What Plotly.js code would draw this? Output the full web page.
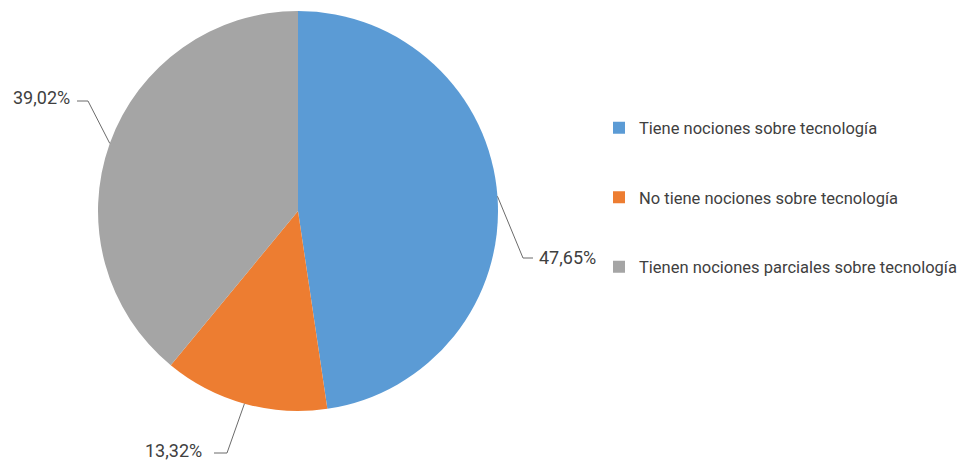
<!DOCTYPE html>
<html><head><meta charset="utf-8">
<script src="https://cdn.plot.ly/plotly-3.0.1.min.js"></script>
<style>html,body{margin:0;padding:0;background:#fff;}#chart{width:967px;height:460px;}</style>
</head><body><div id="chart"></div>
<script>
const categories = ['Tiene nociones sobre tecnología', 'No tiene nociones sobre tecnología', 'Tienen nociones parciales sobre tecnología'];
const values = [47.65, 13.32, 39.02];
const colors = ['#5B9BD5', '#ED7D31', '#A5A5A5'];
const valueLabels = values.map(v => v.toFixed(2).replace('.', ',') + '%');

const W = 967, H = 460;
const FONT = 'Roboto, "Liberation Sans", sans-serif';
const TXT = '#404040';
// pie geometry (pixels)
const cx = 298, cy = 211, R = 200;
// label layout (pixels): elbow, end of leader, text anchor
const labelLayout = [
  {elbow: [523, 258], end: [533, 258], text: [537, 257], xanchor: 'left'},
  {elbow: [227, 453], end: [214, 453], text: [204, 450], xanchor: 'right'},
  {elbow: [88, 101], end: [77, 101], text: [72, 97], xanchor: 'right'}
];
const px = x => x / W, py = y => 1 - y / H;

const total = values.reduce((a, b) => a + b, 0);
let cum = 0;
const shapes = [], annotations = [];
values.forEach((v, i) => {
  const mid = (cum + v / 2) / total * 2 * Math.PI;
  cum += v;
  const ex = cx + R * Math.sin(mid), ey = cy - R * Math.cos(mid);
  const L = labelLayout[i];
  shapes.push({type: 'path', xref: 'paper', yref: 'paper',
    path: `M ${px(ex)} ${py(ey)} L ${px(L.elbow[0])} ${py(L.elbow[1])} L ${px(L.end[0])} ${py(L.end[1])}`,
    line: {color: '#6b6b6b', width: 1}});
  annotations.push({xref: 'paper', yref: 'paper', x: px(L.text[0]), y: py(L.text[1]),
    xanchor: L.xanchor, yanchor: 'middle', showarrow: false, text: valueLabels[i],
    font: {family: FONT, size: 18, color: TXT}});
});

const traces = [{
  type: 'pie', values: values, labels: categories, sort: false, direction: 'clockwise', rotation: 0,
  marker: {colors: colors, line: {color: '#fff', width: 0}}, textinfo: 'none', hoverinfo: 'none',
  showlegend: false,
  domain: {x: [px(cx - R), px(cx + R)], y: [py(cy + R), py(cy - R)]}
}];
categories.forEach((c, i) => {
  traces.push({type: 'scatter', mode: 'markers', x: [null], y: [null], name: c,
    legendgroup: 'g' + i, marker: {symbol: 'square', size: 12, color: colors[i]}, showlegend: true, hoverinfo: 'none'});
});

const layout = {
  width: W, height: H, margin: {l: 0, r: 0, t: 0, b: 0, autoexpand: false},
  paper_bgcolor: '#fff', plot_bgcolor: '#fff',
  xaxis: {visible: false}, yaxis: {visible: false},
  showlegend: true,
  legend: {x: px(599), y: py(197.5), xanchor: 'left', yanchor: 'middle', tracegroupgap: 45,
    font: {family: FONT, size: 16.5, color: TXT}, itemclick: false, bgcolor: 'rgba(0,0,0,0)'},
  shapes: shapes, annotations: annotations
};
Plotly.newPlot('chart', traces, layout, {displayModeBar: false, staticPlot: true});
</script></body></html>
